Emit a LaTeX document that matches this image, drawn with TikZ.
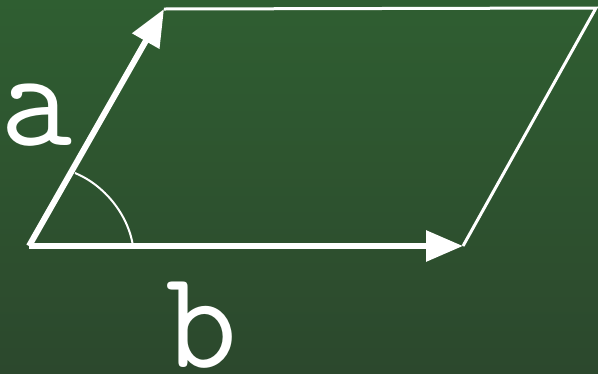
\documentclass[tikz,border=0pt]{standalone}
\usepackage{fontspec}
\usetikzlibrary{arrows.meta}
\definecolor{bgtop}{RGB}{47,94,49}
\definecolor{bgbot}{RGB}{44,72,45}
\tikzset{
  vec/.style={draw=white, line width=6pt, -{Triangle[length=37pt,width=30pt]}},
  side/.style={draw=white, line width=3pt},
  anglearc/.style={draw=white, line width=2pt},
  lbl/.style={text=white, font=\ttfamily\fontsize{140}{140}\selectfont, inner sep=0pt, anchor=base}
}
\begin{document}
\begin{tikzpicture}[x=1pt,y=-1pt]
  \shade[top color=bgtop, bottom color=bgbot] (0,0) rectangle (598,373);
  \useasboundingbox (0,0) rectangle (598,373);
  \coordinate (O) at (29,246);
  \coordinate (A) at (164,9);
  \coordinate (B) at (463,246);
  \coordinate (C) at (596,8);
  \coordinate (P) at (75,173);
  \coordinate (Q) at (133,246);
  \draw[side] (A) -- (C) -- (B);
  \draw[vec] (O) -- (A);
  \draw[vec] (O) -- (B);
  \draw[anglearc] (P) .. controls (104,185) and (128,214) .. (Q);
  \node[lbl] (la) at (37,145) {a};
  \node[lbl] (lb) at (202,367) {b};
\end{tikzpicture}
\end{document}
